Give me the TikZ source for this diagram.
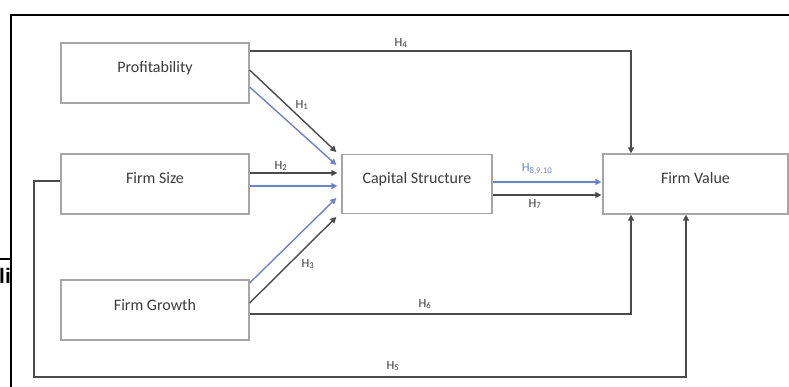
\documentclass[tikz,border=0pt]{standalone}
\usepackage{fontspec}
\setmainfont{Carlito}
\newfontfamily\cutfont{Liberation Sans}
\usetikzlibrary{arrows.meta,calc}
\definecolor{boxgray}{RGB}{166,166,166}
\definecolor{linegray}{RGB}{75,75,75}
\definecolor{hblue}{RGB}{110,130,200}
\definecolor{txtgray}{RGB}{60,60,60}
\begin{document}
\begin{tikzpicture}[x=1pt,y=-1pt,
  varbox/.style={draw=boxgray,line width=1.3pt,fill=white,minimum height=60pt,
    inner sep=0pt,text height=10pt,text depth=10pt,font=\fontsize{16}{18}\selectfont,text=txtgray},
  conn/.style={draw=linegray,line width=1.4pt},
  arr/.style={conn,-{Triangle[length=6pt,width=6pt]}},
  barr/.style={draw=hblue,line width=1.4pt,-{Triangle[length=6pt,width=6pt]}},
  hlab/.style={font=\fontsize{12.5}{13}\selectfont,text=txtgray,inner sep=0pt},
  blab/.style={hlab,text=hblue},
  frame/.style={draw=black,line width=2.5pt}]
\useasboundingbox (0,0) rectangle (789,387);
% outer frame fragments
\draw[frame] (10,15) -- (789,15);
\draw[frame] (11,14) -- (11,387);
\draw[frame] (0,259) -- (11,259);
\begin{scope}
\clip (0,240) rectangle (10,300);
\node[anchor=base west,inner sep=0pt,font=\cutfont\bfseries\fontsize{21}{22}\selectfont] (cut) at (-1,283) {li};
\end{scope}
% boxes
\node[varbox,minimum width=188pt] (prof) at (155,73) {Profitability};
\node[varbox,minimum width=188pt] (size) at (155,184) {Firm Size};
\node[varbox,minimum width=188pt] (growth) at (155,310) {Firm Growth};
\node[varbox,minimum width=150pt,minimum height=59pt] (cs) at (417,184) {Capital Structure};
\node[varbox,minimum width=185pt] (fv) at (695.5,184) {Firm Value};
% H4
\draw[arr] ([yshift=22pt]prof.east) -| ([xshift=-64.5pt]fv.north);
% H1
\draw[arr] ([yshift=3pt]prof.east) -- ([xshift=-5pt,yshift=32pt]cs.west);
\draw[barr] ([yshift=-14pt]prof.east) -- ([xshift=-5pt,yshift=19pt]cs.west);
% H2
\draw[arr] ([yshift=11pt]size.east) -- ([xshift=-4pt,yshift=11pt]cs.west);
\draw[barr] ([yshift=-2pt]size.east) -- ([xshift=-4pt,yshift=-2pt]cs.west);
% H3
\draw[barr] ([yshift=27pt]growth.east) -- ([xshift=-5pt,yshift=-14pt]cs.west);
\draw[arr] ([yshift=7pt]growth.east) -- ([xshift=-5pt,yshift=-33pt]cs.west);
% H8,9,10 and H7
\draw[barr] ([yshift=2pt]cs.east) -- ([xshift=-1pt,yshift=2pt]fv.west);
\draw[arr] ([yshift=-11pt]cs.east) -- ([xshift=-1pt,yshift=-11pt]fv.west);
% H6
\draw[arr] ([yshift=-4pt]growth.east) -| ([xshift=-64.5pt]fv.south);
% H5
\coordinate (h5corner) at (34,377);
\draw[arr] ([yshift=3pt]size.west) -| (h5corner) -| ([xshift=-9.5pt]fv.south);
% labels
\node[hlab] (l4) at (401,43) {H\textsubscript{4}};
\node[hlab] (l1) at (302,105) {H\textsubscript{1}};
\node[hlab] (l2) at (281,166) {H\textsubscript{2}};
\node[hlab] (l3) at (308,264) {H\textsubscript{3}};
\node[blab] (l8) at (537,169) {H\textsubscript{8,9,10}};
\node[hlab] (l7) at (535,204) {H\textsubscript{7}};
\node[hlab] (l6) at (425,304) {H\textsubscript{6}};
\node[hlab] (l5) at (393,366) {H\textsubscript{5}};
\end{tikzpicture}
\end{document}
